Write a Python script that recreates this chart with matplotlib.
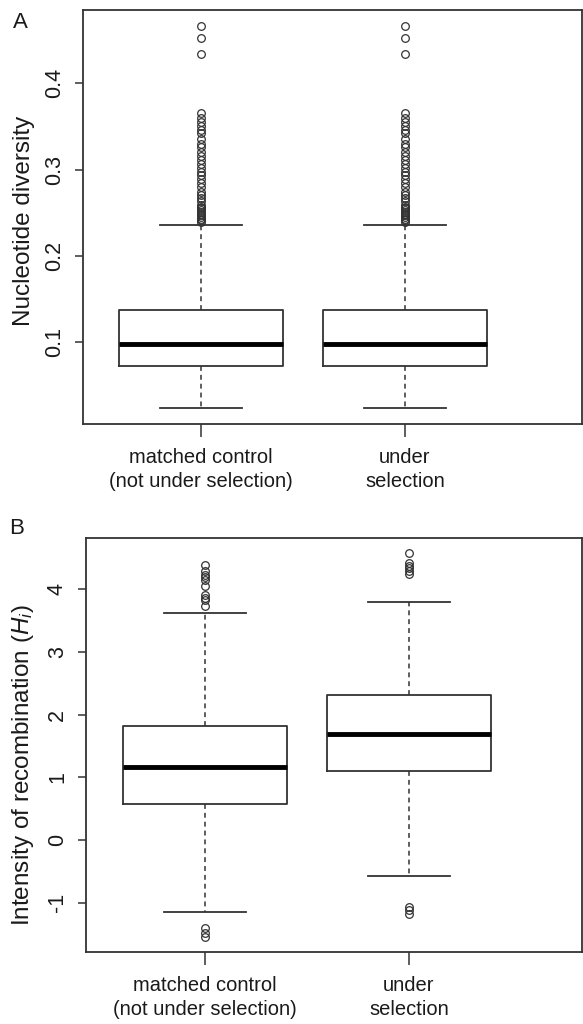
import matplotlib
matplotlib.use('Agg')
import matplotlib.pyplot as plt
import matplotlib.transforms as mtransforms

plt.rcParams['font.family'] = ['Liberation Sans', 'DejaVu Sans']
plt.rcParams['mathtext.fontset'] = 'custom'
plt.rcParams['mathtext.rm'] = 'Liberation Sans'
plt.rcParams['mathtext.it'] = 'Liberation Sans:italic'

groups = ['matched control\n(not under selection)', 'under\nselection']

# panel A - nucleotide diversity (both groups look the same)
div_q1 = [0.072, 0.072]
div_med = [0.098, 0.098]
div_q3 = [0.137, 0.137]
div_lo = [0.023, 0.023]
div_hi = [0.236, 0.236]
div_out = [0.467, 0.453, 0.434, 0.365, 0.360, 0.355, 0.350, 0.346, 0.342,
           0.336, 0.330, 0.326, 0.320, 0.316, 0.311, 0.307, 0.302, 0.297,
           0.294, 0.289, 0.284, 0.280, 0.274, 0.270, 0.267, 0.263, 0.259,
           0.257, 0.255, 0.253, 0.251, 0.249, 0.247, 0.245, 0.243, 0.241, 0.239]

# panel B - intensity of recombination
rec_q1 = [0.575, 1.10]
rec_med = [1.17, 1.69]
rec_q3 = [1.82, 2.32]
rec_lo = [-1.145, -0.57]
rec_hi = [3.62, 3.80]
rec_out_ctrl = [4.39, 4.29, 4.23, 4.20, 4.15, 4.05, 3.91, 3.87, 3.83, 3.73,
                -1.41, -1.49, -1.55]
rec_out_sel = [4.58, 4.42, 4.37, 4.34, 4.29, 4.25, -1.065, -1.12, -1.18]

ink = '#333333'
txt = '#1a1a1a'


def make_stats(q1, med, q3, lo, hi, fliers):
    out = []
    for i in range(len(q1)):
        out.append({'q1': q1[i], 'med': med[i], 'q3': q3[i],
                    'whislo': lo[i], 'whishi': hi[i], 'fliers': fliers[i]})
    return out


def draw(ax, stats, ylim, yticks, yticklabels, ylabel, xlim, shifts, label_xy):
    ax.bxp(stats, positions=[1, 2], widths=0.8, showfliers=True,
           boxprops=dict(color=ink, linewidth=1.3),
           medianprops=dict(color='black', linewidth=3.5, solid_capstyle='butt'),
           whiskerprops=dict(color=ink, linewidth=1.1, linestyle=(0, (3.2, 2.6))),
           capprops=dict(color=ink, linewidth=1.3),
           capwidths=0.4,
           flierprops=dict(marker='o', markersize=5.5, markerfacecolor='none',
                           markeredgecolor=ink, markeredgewidth=0.9))
    ax.set_xlim(*xlim)
    ax.set_ylim(*ylim)
    ax.set_yticks(yticks)
    ax.set_yticklabels(yticklabels, rotation=90, va='center', fontsize=15.5)
    ax.set_xticks([1, 2])
    ax.set_xticklabels(groups, fontsize=14.5, linespacing=1.38, color=txt)
    for lab, dx in zip(ax.get_xticklabels(), shifts):
        lab.set_transform(lab.get_transform() +
                          mtransforms.ScaledTranslation(dx / 100, 0, ax.figure.dpi_scale_trans))
    for lab in ax.get_yticklabels():
        lab.set_color(txt)
    ax.tick_params(axis='y', length=6, width=1.1, color=ink, pad=7)
    ax.tick_params(axis='x', length=9, width=1.1, color=ink, pad=8)
    ax.set_ylabel(ylabel, fontsize=17.5, color=txt)
    ax.yaxis.set_label_coords(*label_xy)
    for s in ax.spines.values():
        s.set_color(ink)
        s.set_linewidth(1.3)


fig = plt.figure(figsize=(5.83, 10.24), dpi=100)
W, H = 583.0, 1024.0

axA = fig.add_axes([83 / W, 1 - 424 / H, (582 - 83) / W, (424 - 10) / H])
statsA = make_stats(div_q1, div_med, div_q3, div_lo, div_hi, [div_out, div_out])
draw(axA, statsA, (0.005, 0.485), [0.1, 0.2, 0.3, 0.4], ['0.1', '0.2', '0.3', '0.4'],
     'Nucleotide diversity', (0.422, 2.868), [10, 3], (-0.097, 0.49))

axB = fig.add_axes([86 / W, 1 - 952 / H, (582 - 86) / W, (952 - 538) / H])
statsB = make_stats(rec_q1, rec_med, rec_q3, rec_lo, rec_hi, [rec_out_ctrl, rec_out_sel])
draw(axB, statsB, (-1.79, 4.82), [-1, 0, 1, 2, 3, 4], ['-1', '0', '1', '2', '3', '4'],
     'Intensity of recombination ($\\it{H_i}$)', (0.417, 2.848), [8, 4], (-0.101, 0.452))

fig.text(20 / W, 1 - 22 / H, 'A', fontsize=16, ha='center', va='center', color=txt)
fig.text(17 / W, 1 - 528 / H, 'B', fontsize=16, ha='center', va='center', color=txt)

fig.savefig('out.png', dpi=100)
